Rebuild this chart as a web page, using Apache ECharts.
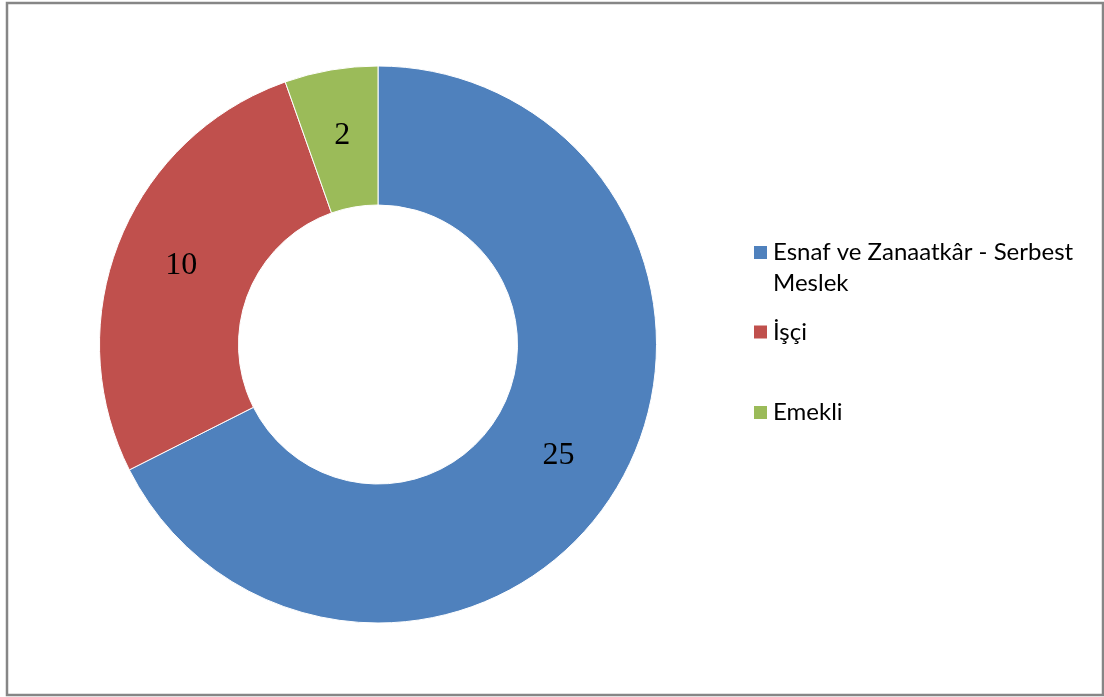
<!DOCTYPE html>
<html>
<head>
<meta charset="utf-8">
<script src="https://cdn.jsdelivr.net/npm/echarts@6/dist/echarts.min.js"></script>
<style>
  html, body { margin: 0; padding: 0; background: #fff; }
  #main { width: 1104px; height: 697px; }
</style>
</head>
<body>
<div id="main"></div>
<script>
// Meslek dagilimi - halka grafik

const categories = ['Esnaf ve Zanaatkâr - Serbest Meslek', 'İşçi', 'Emekli'];
const values = [25, 10, 2];
const colors = ['#4F81BD', '#C0504D', '#9BBB59'];

let myChart = echarts.init(document.getElementById('main'));

let pieData = categories.map((name, i) => ({
    name: name,
    value: values[i],
    itemStyle: { color: colors[i] }
}));

// one legend per item, Excel spaces them unevenly
const legendTops = [206, 316.5, 397];

let legends = categories.map((name, i) => ({
    data: [name],
    orient: 'vertical',
    left: 752,
    top: legendTops[i],
    padding: 0,
    itemWidth: 15,
    itemHeight: 15,
    itemGap: 0,
    icon: 'rect',
    selectedMode: false,
    // blank first line so the marker sits next to the first text line
    formatter: (n) => n.indexOf(' Meslek') > 0 ? ' \n' + n.replace(' Meslek', '\nMeslek') : n,
    textStyle: {
        fontFamily: 'Lato',
        fontSize: 24,
        lineHeight: 31,
        color: '#000'
    }
}));

let option = {
    animation: false,
    backgroundColor: '#fff',
    legend: legends,
    graphic: [{
        type: 'rect',
        shape: { x: 7, y: 3, width: 1096, height: 692 },
        style: { fill: 'none', stroke: '#868686', lineWidth: 2.5 }
    }],
    series: [{
        type: 'pie',
        center: [378, 344.5],
        radius: [139.5, 278.5],
        startAngle: 90,
        clockwise: true,
        avoidLabelOverlap: false,
        itemStyle: { borderColor: '#fff', borderWidth: 1 },
        label: {
            show: true,
            position: 'inside',
            formatter: '{c}',
            fontFamily: 'Liberation Serif',
            fontSize: 32,
            color: '#000'
        },
        labelLine: { show: false },
        emphasis: { disabled: true },
        data: pieData
    }]
};

myChart.setOption(option);
</script>
</body>
</html>
